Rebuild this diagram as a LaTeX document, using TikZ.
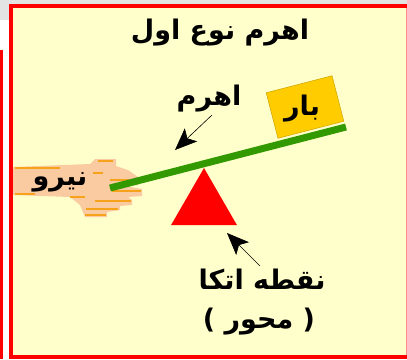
\documentclass[tikz,border=0pt]{standalone}
\usepackage{fontspec}
\usetikzlibrary{arrows.meta,shapes.geometric}
\TeXXeTstate=1
\newfontfamily\fa[Script=Arabic]{DejaVu Sans}
\definecolor{paper}{HTML}{FFFFCC}
\definecolor{frame}{HTML}{FF0000}
\definecolor{bar}{HTML}{339900}
\definecolor{gold}{HTML}{FFCC00}
\definecolor{skin}{HTML}{FACBA0}
\definecolor{nail}{HTML}{F7A21B}
\tikzset{
        label/.style={font=\fa\bfseries\fontsize{27}{30}\selectfont, inner sep=0pt},
        pointer/.style={line width=0.6pt, -{Stealth[length=22pt, width=18pt, inset=5pt]}},
        lever/.style={draw=bar, line width=7pt},
        loadbox/.style={fill=gold, draw=gold!80!black, line width=0.5pt, minimum width=68pt, minimum height=47pt, rotate=14.5, inner sep=0pt},
        pivot/.style={regular polygon, regular polygon sides=3, fill=frame, minimum size=76pt, inner sep=0pt, outer sep=0pt},
        streak/.style={draw=nail, line width=2.2pt}
          }
\begin{document}
\begin{tikzpicture}[x=1pt, y=-1pt]
  \useasboundingbox (0,0) rectangle (407,359);
  % page behind the board
  \fill[white] (0,0) rectangle (407,359);
  \fill[gray!22] (0,0) rectangle (407,20);
  \fill[frame] (0,50) rectangle (3,359);
  % the board
  \fill[paper] (11,6) rectangle (407,357);
  \draw[frame, line width=4pt] (407,6) -- (11,6) -- (11,357) -- (407,357);
  \draw[frame!45, line width=1pt] (406,8) -- (406,355);

  \node[label] (title) at (220,33) {\beginR اهرم نوع اول\endR};

  % the hand pushing on the left end
  \fill[skin] (13,167) -- (90,164) -- (95,159) -- (116,159) -- (116,166) -- (128,170)
    -- (138,177) -- (138,185) -- (125,186) -- (142,189) -- (142,196) -- (128,197)
    -- (132,200) -- (132,205) -- (120,206) -- (120,210) -- (107,212) -- (107,217)
    -- (85,217) -- (80,205) -- (70,197) -- (13,195) -- cycle;
  \draw[streak] (15,168) -- (60,168) (98,161) -- (113,161) (93,173) -- (103,173)
    (110,180) -- (138,180) (112,191) -- (141,191) (95,201) -- (131,201)
    (86,209) -- (118,209) (85,215) -- (106,215) (70,197) -- (85,197) (15,194) -- (35,194);
  \node[label] (force) at (60,182) {\beginR نیرو\endR};

  % lever and load
  \coordinate (lvA) at (110,188);
  \coordinate (lvB) at (346,127);
  \node[loadbox] (load) at (305,107) {};
  \node[label] (loadtext) at (302,109) {\beginR بار\endR};
  \draw[lever] (lvA) -- (lvB);

  % fulcrum
  \node[pivot] (fulcrum) at (204,206) {};

  \node[label] (levertext) at (209,99) {\beginR اهرم\endR};
  \coordinate (levertip) at (175,150);
  \draw[pointer] (212,115) -- (levertip);

  \node[label] (fulcrumtext) at (262,279) {\beginR نقطه اتکا\endR};
  \node[label] (axis) at (259,322) {\beginR ( محور )\endR};
  \coordinate (fulcrumtip) at (227,233);
  \draw[pointer] (260,266) -- (fulcrumtip);
\end{tikzpicture}
\end{document}
